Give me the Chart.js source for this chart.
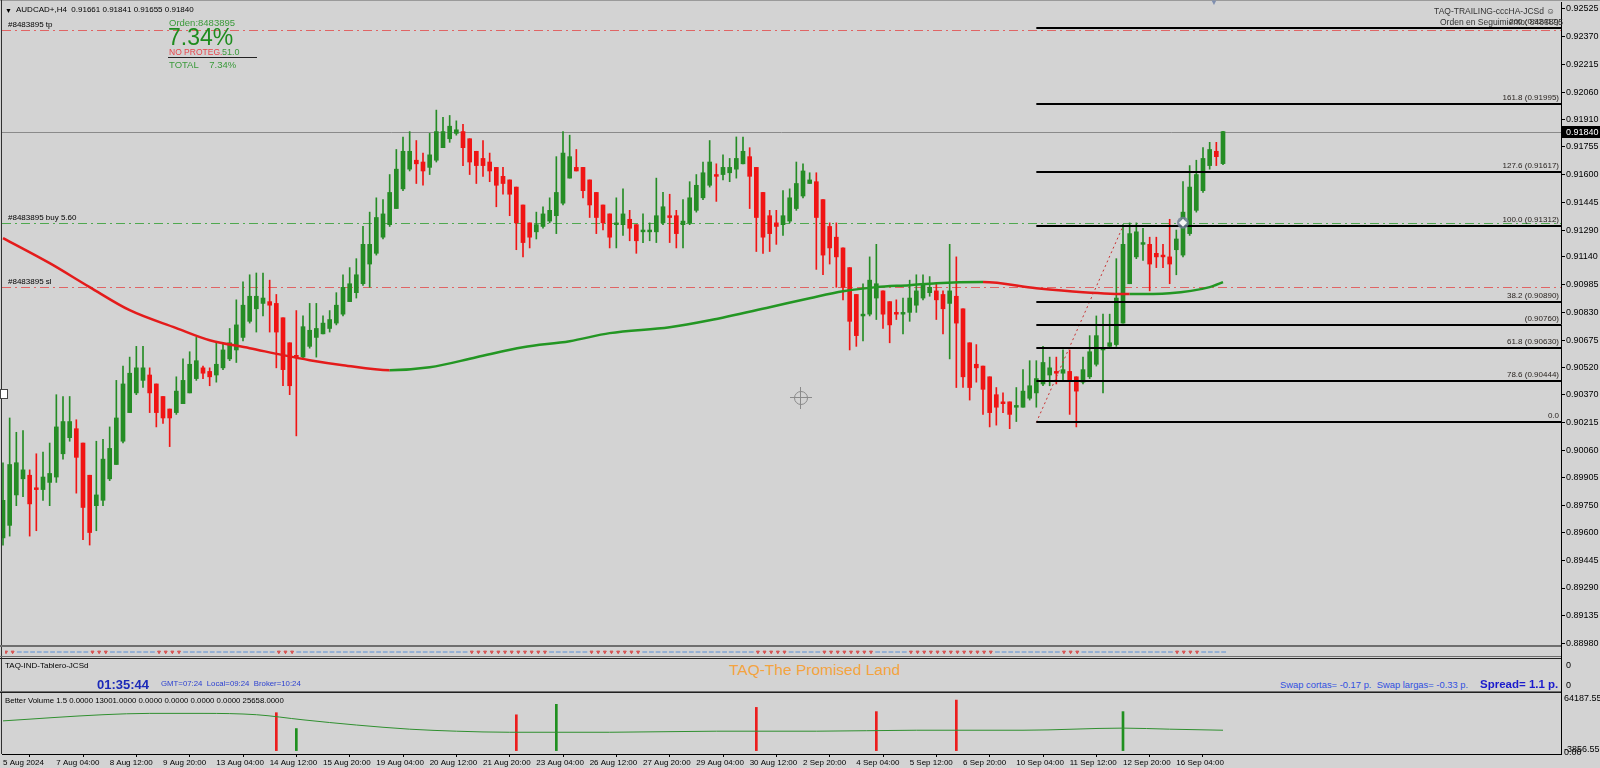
<!DOCTYPE html>
<html>
<head>
<meta charset="utf-8">
<title>AUDCAD+,H4</title>
<script src="https://cdn.jsdelivr.net/npm/chart.js@4.4.1/dist/chart.umd.min.js"></script>
<style>
  body { margin: 0; width: 1600px; height: 768px; overflow: hidden; background: #d3d3d3; position: relative; font-family: "Liberation Sans", Arial, sans-serif; }
  canvas { position: absolute; left: 0; }
  .t { position: absolute; white-space: nowrap; line-height: 1; }
  .ln { position: absolute; }
</style>
</head>
<body>
<canvas id="precioChart" width="1600" height="647" style="top:0"></canvas>
<canvas id="flechasChart" width="1600" height="14" style="top:645px"></canvas>
<canvas id="volumenChart" width="1600" height="75" style="top:693px"></canvas>

<!-- bordes y separadores -->
<div class="ln" style="left:0;top:0;width:1600px;height:1px;background:#9a9a9a"></div>
<div class="ln" style="left:1px;top:0;width:1px;height:754px;background:#303030"></div>
<div class="ln" style="left:0;top:645px;width:1561px;height:2px;background:#6e6e6e"></div>
<div class="ln" style="left:0;top:656px;width:1561px;height:1px;background:#6e6e6e"></div>
<div class="ln" style="left:0;top:658px;width:1561px;height:1px;background:#202020"></div>
<div class="ln" style="left:0;top:691px;width:1561px;height:1px;background:#6e6e6e"></div>
<div class="ln" style="left:0;top:692px;width:1561px;height:1px;background:#202020"></div>
<div class="ln" style="left:1561px;top:645px;width:1px;height:49px;background:#000"></div>
<div class="ln" style="left:0;top:389px;width:6px;height:8px;background:#fff;border:1px solid #444"></div>
<div class="t" style="left:1210px;top:-1px;font-size:8px;color:#7f8fb0">&#9660;</div>
<!-- cursor en cruz -->
<div class="ln" style="left:794px;top:391px;width:12px;height:12px;border:1px solid #8a8a8a;border-radius:50%"></div>
<div class="ln" style="left:790px;top:397px;width:22px;height:1px;background:#8a8a8a"></div>
<div class="ln" style="left:800px;top:387px;width:1px;height:22px;background:#8a8a8a"></div>

<!-- cabecera -->
<div class="t" style="left:5px;top:7px;font-size:7px">&#9660;</div>
<div class="t" style="left:16px;top:6px;font-size:8px">AUDCAD+,H4&nbsp; 0.91661 0.91841 0.91655 0.91840</div>
<div class="t" style="left:8px;top:21px;font-size:8px">#8483895 tp</div>
<div class="t" style="left:8px;top:214px;font-size:8px">#8483895 buy 5.60</div>
<div class="t" style="left:8px;top:278px;font-size:8px">#8483895 sl</div>

<div class="t" style="left:169px;top:18px;font-size:9.5px;color:#3a9a3a">Orden:8483895</div>
<div class="t" style="left:168px;top:26px;font-size:23px;color:#1e8c1e">7.34%</div>
<div class="t" style="left:169px;top:48px;font-size:8.5px;color:#e8434a">NO PROTEG.</div>
<div class="t" style="left:222px;top:48px;font-size:9px;color:#3a9a3a">51.0</div>
<div class="ln" style="left:168px;top:57px;width:89px;height:1px;background:#222"></div>
<div class="t" style="left:169px;top:60px;font-size:9.5px;color:#3a9a3a">TOTAL&nbsp;&nbsp;&nbsp; 7.34%</div>

<div class="t" style="right:45px;top:7px;font-size:8.5px;color:#333">TAQ-TRAILING-cccHA-JCSd &#9786;</div>
<div class="t" style="left:1440px;top:18px;font-size:8.5px;color:#333">Orden en Seguimiento: 8483895</div>

<!-- panel tablero -->
<div class="t" style="left:5px;top:662px;font-size:8px">TAQ-IND-Tablero-JCSd</div>
<div class="t" style="left:97px;top:678px;font-size:13px;font-weight:bold;color:#1c2ab8">01:35:44</div>
<div class="t" style="left:161px;top:680px;font-size:7.8px;color:#2a3fd0">GMT=07:24&nbsp; Local=09:24&nbsp; Broker=10:24</div>
<div class="t" style="left:729px;top:662px;font-size:15.5px;color:#f4a340">TAQ-The Promised Land</div>
<div class="t" style="left:1280px;top:680px;font-size:9.4px;color:#3050e0">Swap cortas= -0.17 p.&nbsp; Swap largas= -0.33 p.</div>
<div class="t" style="left:1480px;top:679px;font-size:11.5px;font-weight:bold;color:#1a1acc">Spread= 1.1 p.</div>
<div class="t" style="left:1566px;top:661px;font-size:9px">0</div>
<div class="t" style="left:1566px;top:681px;font-size:9px">0</div>

<!-- panel volumen -->
<div class="t" style="left:5px;top:697px;font-size:7.8px">Better Volume 1.5 0.0000 13001.0000 0.0000 0.0000 0.0000 0.0000 25658.0000</div>
<div class="t" style="left:1564px;top:694px;font-size:9px">64187.55</div>
<div class="t" style="left:1564px;top:745px;font-size:9px">-3856.55</div>
<div class="t" style="left:1564px;top:748px;font-size:9px">0.00</div>

<script>
const FUENTE = '"Liberation Sans", Arial, sans-serif';

// velas H4, 5 Aug 20:00 -> 17 Sep 08:00
const opens = [
  0.8957,0.8964,0.8981,0.8990,0.8992,0.8985,0.8984,0.8988,0.8991,0.9004,0.9013,0.9018,0.9010,0.8992,0.8975,0.8978,0.8990,0.8998,0.9011,0.9027,0.9038,0.9045,0.9048,0.9043,0.9036,0.9029,0.9027,0.9032,0.9038,0.9046,0.9052,0.9050,0.9048,0.9052,0.9057,0.9062,0.9069,0.9078,0.9085,0.9088,0.9089,0.9088,0.9080,0.9066,0.9059,
  0.9058,0.9064,0.9069,0.9071,0.9074,0.9077,0.9082,0.9089,0.9094,0.9099,0.9110,0.9116,0.9125,0.9132,0.9141,0.9152,0.9163,0.9168,0.9167,0.9164,0.9168,0.9175,0.9180,0.9183,0.9184,0.9180,0.9173,0.9169,0.9167,0.9164,0.9159,0.9157,0.9153,0.9143,0.9133,0.9128,0.9131,0.9134,0.9137,0.9144,0.9158,0.9164,0.9164,0.9157,0.9150,0.9143,
  0.9138,0.9132,0.9132,0.9135,0.9132,0.9128,0.9128,0.9128,0.9133,0.9137,0.9137,0.9132,0.9133,0.9140,0.9147,0.9154,0.9160,0.9160,0.9161,0.9163,0.9166,0.9170,0.9164,0.9150,0.9137,0.9133,0.9132,0.9134,0.9141,0.9148,0.9155,0.9156,0.9146,0.9131,0.9125,0.9119,0.9108,0.9093,0.9081,0.9082,0.9091,0.9095,0.9089,0.9083,0.9082,
  0.9083,0.9087,0.9091,0.9094,0.9095,0.9093,0.9088,0.9092,0.9085,0.9066,0.9054,0.9053,0.9047,0.9037,0.9033,0.9033,0.9030,0.9030,0.9035,0.9038,0.9043,0.9048,0.9050,0.9049,0.9050,0.9047,0.9044,0.9047,0.9054,0.9062,0.9064,0.9065,0.9077,0.9099,0.9114,0.9121,0.9121,0.9116,0.9115,0.9114,0.9118,0.9115,0.9127,0.9140,0.9151,
  0.9165,0.9173,0.91661
];
const highs = [
  0.8999,0.9024,0.9016,0.9017,0.8995,0.9004,0.9005,0.9010,0.9037,0.9036,0.9036,0.9023,0.9010,0.8992,0.9011,0.9012,0.9019,0.9045,0.9053,0.9058,0.9064,0.9064,0.9052,0.9043,0.9036,0.9029,0.9047,0.9057,0.9061,0.9069,0.9053,0.9052,0.9066,0.9066,0.9074,0.9090,0.9100,0.9104,0.9105,0.9105,0.9101,0.9093,0.9080,0.9066,0.9084,
  0.9081,0.9088,0.9088,0.9081,0.9084,0.9094,0.9104,0.9108,0.9113,0.9131,0.9139,0.9147,0.9146,0.9160,0.9174,0.9181,0.9184,0.9179,0.9172,0.9183,0.9196,0.9192,0.9193,0.9190,0.9188,0.9180,0.9173,0.9179,0.9172,0.9164,0.9164,0.9157,0.9153,0.9143,0.9133,0.9139,0.9142,0.9147,0.9170,0.9184,0.9182,0.9174,0.9164,0.9157,0.9150,0.9143,
  0.9138,0.9147,0.9152,0.9140,0.9132,0.9138,0.9133,0.9158,0.9150,0.9149,0.9140,0.9146,0.9156,0.9160,0.9167,0.9179,0.9166,0.9171,0.9169,0.9181,0.9181,0.9175,0.9164,0.9150,0.9140,0.9140,0.9151,0.9152,0.9167,0.9166,0.9161,0.9161,0.9146,0.9133,0.9133,0.9119,0.9108,0.9093,0.9099,0.9114,0.9121,0.9095,0.9089,0.9090,0.9091,
  0.9101,0.9104,0.9104,0.9103,0.9099,0.9095,0.9121,0.9114,0.9085,0.9066,0.9065,0.9053,0.9047,0.9041,0.9038,0.9033,0.9041,0.9051,0.9056,0.9056,0.9064,0.9058,0.9058,0.9062,0.9062,0.9047,0.9058,0.9070,0.9081,0.9082,0.9082,0.9113,0.9132,0.9133,0.9133,0.9130,0.9125,0.9125,0.9121,0.9135,0.9129,0.9156,0.9165,0.9168,0.9175,
  0.9178,0.9178,0.91841
];
const lows = [
  0.8953,0.8958,0.8975,0.8980,0.8958,0.8961,0.8978,0.8975,0.8988,0.9001,0.9011,0.8982,0.8956,0.8953,0.8961,0.8975,0.8989,0.8998,0.9010,0.9027,0.9037,0.9041,0.9027,0.9019,0.9021,0.9008,0.9026,0.9032,0.9038,0.9045,0.9046,0.9042,0.9044,0.9051,0.9056,0.9055,0.9067,0.9077,0.9072,0.9081,0.9072,0.9052,0.9042,0.9037,0.9014,
  0.9057,0.9063,0.9058,0.9071,0.9072,0.9076,0.9081,0.9089,0.9091,0.9098,0.9097,0.9115,0.9124,0.9131,0.9141,0.9151,0.9162,0.9155,0.9154,0.9160,0.9167,0.9175,0.9178,0.9182,0.9165,0.9160,0.9155,0.9159,0.9156,0.9142,0.9149,0.9137,0.9118,0.9114,0.9119,0.9124,0.9130,0.9133,0.9127,0.9143,0.9158,0.9162,0.9147,0.9136,0.9127,0.9129,
  0.9119,0.9119,0.9126,0.9123,0.9116,0.9122,0.9123,0.9122,0.9132,0.9122,0.9119,0.9119,0.9132,0.9139,0.9146,0.9153,0.9145,0.9157,0.9156,0.9158,0.9166,0.9141,0.9117,0.9116,0.9117,0.9121,0.9126,0.9133,0.9140,0.9147,0.9155,0.9107,0.9104,0.9110,0.9097,0.9090,0.9062,0.9064,0.9067,0.9081,0.9079,0.9074,0.9066,0.9079,0.9071,
  0.9078,0.9083,0.9090,0.9092,0.9079,0.9071,0.9057,0.9041,0.9041,0.9034,0.9044,0.9026,0.9019,0.9020,0.9027,0.9018,0.9022,0.9030,0.9034,0.9030,0.9042,0.9042,0.9043,0.9045,0.9026,0.9019,0.9043,0.9046,0.9053,0.9038,0.9063,0.9064,0.9077,0.9099,0.9113,0.9112,0.9095,0.9108,0.9108,0.9099,0.9104,0.9114,0.9126,0.9139,0.9150,
  0.9163,0.9165,0.91655
];
const closes = [
  0.8978,0.8998,0.8999,0.8995,0.8976,0.8984,0.8991,0.8993,0.9019,0.9022,0.9022,0.9002,0.8974,0.8960,0.8981,0.9001,0.9007,0.9024,0.9043,0.9049,0.9052,0.9052,0.9038,0.9027,0.9024,0.9024,0.9039,0.9045,0.9054,0.9056,0.9049,0.9047,0.9054,0.9062,0.9066,0.9076,0.9087,0.9092,0.9092,0.9091,0.9087,0.9072,0.9051,0.9042,0.9058,
  0.9075,0.9073,0.9074,0.9077,0.9079,0.9087,0.9097,0.9099,0.9104,0.9121,0.9121,0.9136,0.9138,0.9150,0.9163,0.9173,0.9173,0.9166,0.9162,0.9171,0.9184,0.9184,0.9187,0.9185,0.9175,0.9167,0.9165,0.9165,0.9162,0.9154,0.9155,0.9149,0.9133,0.9122,0.9125,0.9132,0.9138,0.9140,0.9150,0.9172,0.9170,0.9162,0.9151,0.9143,0.9136,0.9133,
  0.9125,0.9133,0.9138,0.9130,0.9123,0.9129,0.9129,0.9137,0.9142,0.9136,0.9127,0.9134,0.9147,0.9154,0.9161,0.9167,0.9159,0.9164,0.9164,0.9169,0.9173,0.9159,0.9136,0.9125,0.9127,0.9131,0.9137,0.9147,0.9155,0.9162,0.9157,0.9136,0.9115,0.9119,0.9114,0.9097,0.9078,0.9070,0.9082,0.9101,0.9099,0.9082,0.9076,0.9082,0.9083,
  0.9091,0.9095,0.9099,0.9097,0.9090,0.9085,0.9095,0.9077,0.9047,0.9041,0.9052,0.9040,0.9027,0.9030,0.9032,0.9026,0.9031,0.9039,0.9042,0.9046,0.9055,0.9052,0.9049,0.9051,0.9045,0.9039,0.9051,0.9061,0.9070,0.9063,0.9066,0.9091,0.9121,0.9127,0.9128,0.9122,0.9110,0.9114,0.9114,0.9110,0.9124,0.9139,0.9153,0.9160,0.9169,
  0.9174,0.9170,0.91840
];

// media movil (muestras)
const maIdx = [0,7,13,19,26,31,37,42,46,51,58,64,71,78,85,91,100,106,115,121,126,131,136,140,147,155,162,169,175,181,183];
const maVal = [0.91245,0.91105,0.90971,0.90842,0.90742,0.90674,0.90630,0.90591,0.90563,0.90535,0.90507,0.90523,0.90579,0.90635,0.90669,0.90714,0.90747,0.90786,0.90859,0.90909,0.90948,0.90971,0.90982,0.90993,0.90999,0.90965,0.90943,0.90932,0.90937,0.90971,0.90999];

// eje de precios y fechas
const yTicks = [0.92525,0.92370,0.92215,0.92060,0.91910,0.91755,0.91600,0.91445,0.91290,0.91140,0.90985,0.90830,0.90675,0.90520,0.90370,0.90215,0.90060,0.89905,0.89750,0.89600,0.89445,0.89290,0.89135,0.88980];
const fechas = ['5 Aug 2024','7 Aug 04:00','8 Aug 12:00','9 Aug 20:00','13 Aug 04:00','14 Aug 12:00','15 Aug 20:00','19 Aug 04:00','20 Aug 12:00','21 Aug 20:00','23 Aug 04:00','26 Aug 12:00','27 Aug 20:00','29 Aug 04:00','30 Aug 12:00','2 Sep 20:00','4 Sep 04:00','5 Sep 12:00','6 Sep 20:00','10 Sep 04:00','11 Sep 12:00','12 Sep 20:00','16 Sep 04:00'];
const precioActual = 0.91840;

// orden y fibonacci
const ordenNiveles = [0.92410, 0.91328, 0.90970];
const fiboNiveles = [0.92417, 0.91995, 0.91617, 0.91312, 0.90890, 0.90760, 0.90630, 0.90444, 0.90215];
const fiboTextos = ['200 (0.92417)', '161.8 (0.91995)', '127.6 (0.91617)', '100.0 (0.91312)', '38.2 (0.90890)', '(0.90760)', '61.8 (0.90630)', '78.6 (0.90444)', '0.0'];
const fiboIdx = [155, 168];
const entradaIdx = 177;
const entradaPrecio = 0.91331;

// flechas del panel pequeño: tramos alternos rojo / azul (en velas)
const flechaTramos = [2,11,3,7,4,14,3,26,12,6,8,17,5,5,8,5,13,10,3,14,4,4];

// Better Volume
const volIdx = [41, 44, 77, 83, 113, 131, 143, 168];
const volVal = [43000, 25000, 40600, 52500, 49000, 44200, 57300, 44200];
const volSube = [false, true, false, true, false, false, false, true];
const volMediaIdx = [0,15,22,30,38,45,53,61,68,76,91,107,122,137,153,168,175,183];
const volMediaVal = [33700,40700,42200,42200,40700,34900,29000,24300,22000,20800,20800,22000,22000,23100,23100,25500,24300,23100];

const VERDE = '#258c25';
const ROJO = '#f01414';
const xMin = -0.15, xMax = 233.7;

const colorVela = opens.map((o, i) => closes[i] >= o ? VERDE : ROJO);

function linea(ctx, x1, y1, x2, y2) {
    ctx.beginPath();
    ctx.moveTo(x1, y1);
    ctx.lineTo(x2, y2);
    ctx.stroke();
}

const dibujos = {
    id: 'dibujos',
    beforeDatasetsDraw(chart) {
        const { ctx, chartArea: a, scales: { y } } = chart;
        ctx.save();
        ctx.lineWidth = 1;
        ctx.strokeStyle = '#8a8a8a';
        let py = Math.round(y.getPixelForValue(precioActual)) + 0.5;
        linea(ctx, a.left, py, a.right, py);
        const colores = ['#e06464', '#4fa84f', '#e06464'];
        ctx.setLineDash([9, 4, 2, 4]);
        ordenNiveles.forEach((v, k) => {
            ctx.strokeStyle = colores[k];
            py = Math.round(y.getPixelForValue(v)) + 0.5;
            linea(ctx, a.left, py, a.right, py);
        });
        ctx.restore();
    },
    afterDatasetsDraw(chart) {
        const { ctx, chartArea: a, scales: { x, y } } = chart;
        ctx.save();
        ctx.strokeStyle = '#000';
        ctx.lineWidth = 2;
        ctx.fillStyle = '#2a2420';
        ctx.font = '8px ' + FUENTE;
        ctx.textAlign = 'right';
        ctx.textBaseline = 'bottom';
        const x0 = x.getPixelForValue(fiboIdx[0]);
        fiboNiveles.forEach((v, k) => {
            const py = Math.round(y.getPixelForValue(v));
            linea(ctx, x0, py, a.right, py);
            ctx.fillText(fiboTextos[k], a.right - 2, py - 2);
        });
        // marca de entrada
        const ex = x.getPixelForValue(entradaIdx), ey = y.getPixelForValue(entradaPrecio);
        ctx.fillStyle = 'rgba(110,125,150,0.8)';
        ctx.beginPath();
        ctx.arc(ex, ey, 6, 0, Math.PI * 2);
        ctx.fill();
        ctx.fillStyle = '#f4f4f4';
        ctx.beginPath();
        ctx.moveTo(ex, ey - 4); ctx.lineTo(ex + 4, ey); ctx.lineTo(ex, ey + 4); ctx.lineTo(ex - 4, ey);
        ctx.closePath();
        ctx.fill();
        ctx.restore();
    },
    afterDraw(chart) {
        const { ctx, chartArea: a, scales: { y } } = chart;
        const py = Math.round(y.getPixelForValue(precioActual));
        ctx.save();
        ctx.fillStyle = '#000';
        ctx.fillRect(a.right + 1, py - 6, 39, 12);
        ctx.fillStyle = '#fff';
        ctx.font = '9px ' + FUENTE;
        ctx.textBaseline = 'middle';
        ctx.fillText(precioActual.toFixed(5), a.right + 5, py + 0.5);
        ctx.restore();
    }
};

const ctxPrecio = document.getElementById('precioChart').getContext('2d');
const precioChart = new Chart(ctxPrecio, {
    type: 'bar',
    data: {
        datasets: [{
            label: 'mechas',
            data: opens.map((o, i) => ({ x: i, y: [lows[i], highs[i]] })),
            backgroundColor: colorVela,
            barThickness: 1,
            grouped: false,
            order: 3
        }, {
            label: 'cuerpos',
            data: opens.map((o, i) => ({ x: i, y: [o, closes[i]] })),
            backgroundColor: colorVela,
            barThickness: 4,
            minBarLength: 1,
            grouped: false,
            order: 2
        }, {
            type: 'line',
            label: 'media',
            data: maIdx.map((v, k) => ({ x: v, y: maVal[k] })),
            borderWidth: 2.5,
            pointRadius: 0,
            cubicInterpolationMode: 'monotone',
            segment: {
                borderColor: c => c.p1.parsed.y < c.p0.parsed.y ? '#e41b1b' : '#239623'
            },
            order: 1
        }, {
            type: 'line',
            label: 'fibo',
            data: [{ x: fiboIdx[0], y: fiboNiveles[8] }, { x: fiboIdx[1], y: fiboNiveles[3] }],
            borderColor: '#c83030',
            borderWidth: 1,
            borderDash: [2, 3],
            pointRadius: 0,
            order: 0
        }]
    },
    options: {
        responsive: false,
        animation: false,
        events: [],
        layout: { padding: { top: 2, left: 2, right: 0, bottom: 1 } },
        plugins: { legend: { display: false }, tooltip: { enabled: false } },
        scales: {
            x: { type: 'linear', min: xMin, max: xMax, offset: false, display: false },
            y: {
                position: 'right',
                min: 0.88966,
                max: 0.92564,
                afterBuildTicks: s => { s.ticks = yTicks.map(v => ({ value: v })); },
                afterFit: s => { s.width = 39; s.paddingTop = 0; s.paddingBottom = 0; },
                ticks: {
                    autoSkip: false,
                    padding: 1,
                    color: '#000',
                    font: { family: FUENTE, size: 9 },
                    callback: v => v.toFixed(5)
                },
                grid: { drawOnChartArea: false, tickLength: 4, color: '#000' },
                border: { color: '#000' }
            }
        }
    },
    plugins: [dibujos]
});

// panel de flechas
const flechaRoja = [];
flechaTramos.forEach((n, k) => { for (let j = 0; j < n; j++) flechaRoja.push(k % 2 === 0); });
const ctxFlechas = document.getElementById('flechasChart').getContext('2d');
const flechasChart = new Chart(ctxFlechas, {
    type: 'line',
    data: {
        datasets: [{
            data: flechaRoja.map((r, i) => ({ x: i, y: 0.5 })),
            showLine: false,
            pointStyle: flechaRoja.map(r => r ? 'triangle' : 'line'),
            pointRotation: flechaRoja.map(r => r ? 180 : 0),
            pointRadius: flechaRoja.map(r => r ? 1.7 : 2.4),
            pointBackgroundColor: flechaRoja.map(r => r ? '#d65050' : '#5b8fd4'),
            pointBorderColor: flechaRoja.map(r => r ? '#d65050' : '#5b8fd4'),
            pointBorderWidth: 1
        }]
    },
    options: {
        responsive: false,
        animation: false,
        events: [],
        layout: { padding: { top: 2, left: 2, right: 39, bottom: 2 } },
        plugins: { legend: { display: false }, tooltip: { enabled: false } },
        scales: {
            x: { type: 'linear', min: xMin, max: xMax, display: false },
            y: { type: 'linear', min: 0, max: 1, display: false }
        }
    }
});

const ctxVolumen = document.getElementById('volumenChart').getContext('2d');
const volumenChart = new Chart(ctxVolumen, {
    type: 'bar',
    data: {
        datasets: [{
            type: 'line',
            label: 'media',
            data: volMediaIdx.map((v, k) => ({ x: v, y: volMediaVal[k] })),
            borderColor: '#2f8f2f',
            borderWidth: 1,
            pointRadius: 0,
            cubicInterpolationMode: 'monotone',
            order: 1
        }, {
            label: 'volumen',
            data: volIdx.map((v, k) => ({ x: v, y: volVal[k] })),
            backgroundColor: volSube.map(s => s ? '#1f8f1f' : '#ec1c1c'),
            barThickness: 2,
            grouped: false,
            order: 2
        }]
    },
    options: {
        responsive: false,
        animation: false,
        events: [],
        layout: { padding: { top: 1, left: 2, right: 0, bottom: 0 } },
        plugins: { legend: { display: false }, tooltip: { enabled: false } },
        scales: {
            x: {
                type: 'linear',
                min: xMin,
                max: xMax,
                offset: false,
                afterBuildTicks: s => { s.ticks = fechas.map((f, k) => ({ value: k * 8 })); },
                afterFit: s => { s.height = 14; s.paddingLeft = 0; s.paddingRight = 0; },
                ticks: {
                    autoSkip: false,
                    maxRotation: 0,
                    minRotation: 0,
                    align: 'start',
                    padding: 1,
                    color: '#000',
                    font: { family: FUENTE, size: 8 },
                    callback: (v, k) => fechas[k]
                },
                grid: { drawOnChartArea: false, tickLength: 3, color: '#000' },
                border: { color: '#000' }
            },
            y: {
                position: 'right',
                min: -3856.55,
                max: 64187.55,
                afterFit: s => { s.width = 39; s.paddingTop = 0; s.paddingBottom = 0; },
                ticks: { display: false },
                grid: { display: false },
                border: { color: '#000' }
            }
        }
    }
});
</script>
</body>
</html>
